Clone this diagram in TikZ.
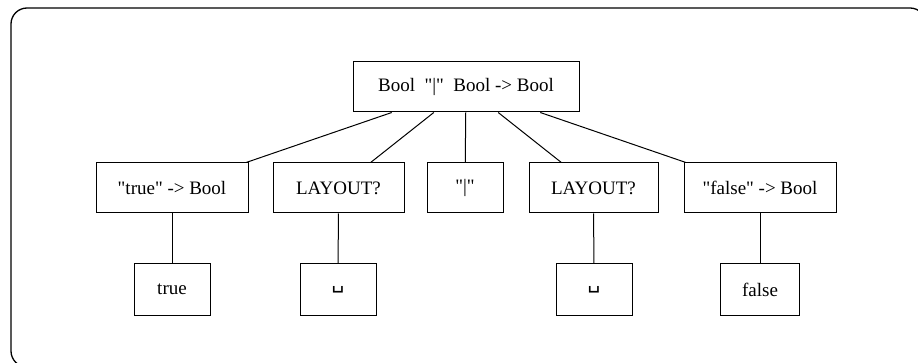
\documentclass[tikz,border=0pt]{standalone}
\usepackage{fontspec}
\setmainfont{Liberation Serif}
\newfontfamily\symfont{DejaVu Sans}
\newcommand{\dq}{\textquotedbl}

\begin{document}
\begin{tikzpicture}[x={(1pt,0pt)},y={(0pt,-1pt)},
  box/.style={draw,line width=1pt,inner sep=0pt,minimum height=50pt,
    font=\fontsize{19}{23}\selectfont},
  edge/.style={line width=1pt}]
\useasboundingbox (0,0) rectangle (918,363);
\draw [line width=1.3pt,rounded corners=16pt] (11,8) rectangle (926,367);
% parse tree
\node [box,minimum width=226pt] (root) at (466,87) {Bool\ \ \dq|\dq\ \ Bool -> Bool};
\node [box,minimum width=152pt] (tr) at (172,188) {\dq true\dq\ -> Bool};
\node [box,minimum width=131pt] (lay1) at (338.5,188) {LAYOUT?};
\node [box,minimum width=76pt] (bar) at (465,188) {\dq|\dq};
\node [box,minimum width=129pt] (lay2) at (593.5,188) {LAYOUT?};
\node [box,minimum width=152pt] (fa) at (760,188) {\dq false\dq\ -> Bool};
\node [box,minimum width=76pt,minimum height=51pt] (trv) at (172,289.5) {true};
\node [box,minimum width=76pt,minimum height=51pt] (sp1) at (338,289.5) {\symfont\fontsize{20}{24}\selectfont ␣};
\node [box,minimum width=76pt,minimum height=51pt] (sp2) at (594,289.5) {\symfont\fontsize{20}{24}\selectfont ␣};
\node [box,minimum width=79pt,minimum height=51pt] (fav) at (760,289.5) {false};
\draw [edge] (root) -- (tr);
\draw [edge] (root) -- (lay1);
\draw [edge] (root) -- (bar);
\draw [edge] (root) -- (lay2);
\draw [edge] (root) -- (fa);
\draw [edge] (tr) -- (trv);
\draw [edge] (lay1) -- (sp1);
\draw [edge] (lay2) -- (sp2);
\draw [edge] (fa) -- (fav);
\end{tikzpicture}
\end{document}
